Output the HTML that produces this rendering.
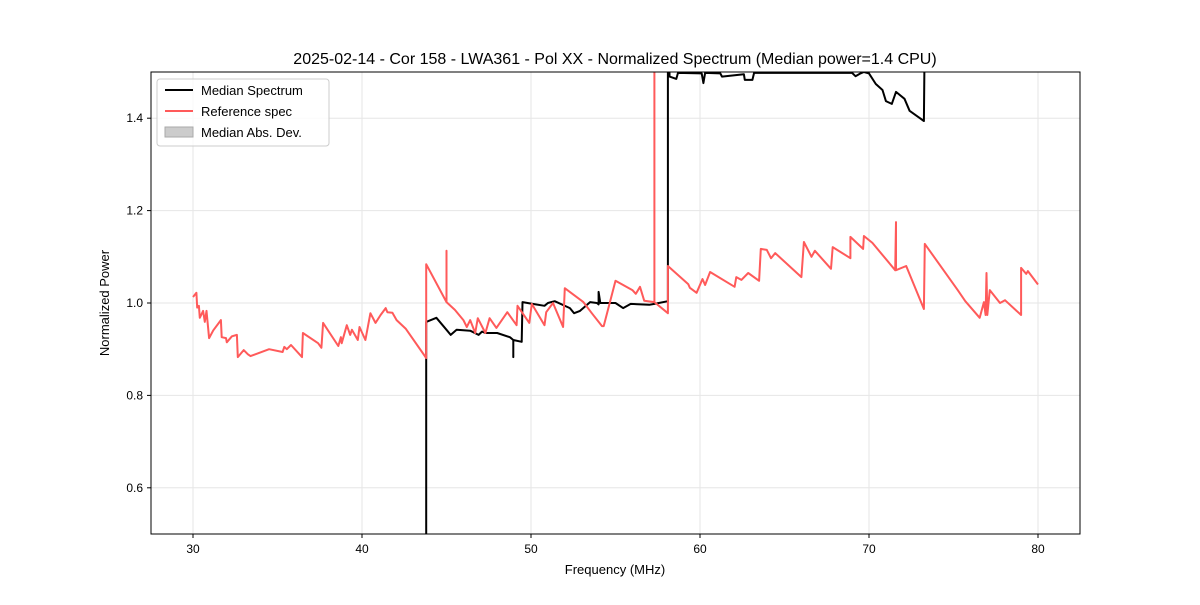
<!DOCTYPE html>
<html><head><meta charset="utf-8"><style>
body{margin:0;background:#fff}
svg text{font-family:"Liberation Sans","DejaVu Sans",sans-serif;fill:#000}
</style></head><body>
<svg id="chart" width="1200" height="600" xmlns="http://www.w3.org/2000/svg">
<defs><clipPath id="clip"><rect x="151" y="72" width="929" height="462"/></clipPath></defs>
<rect width="1200" height="600" fill="#fff"/>
<text x="615" y="64" text-anchor="middle" font-size="16">2025-02-14 - Cor 158 - LWA361 - Pol XX - Normalized Spectrum (Median power=1.4 CPU)</text>
<g id="grid"></g>
<g id="series" clip-path="url(#clip)"></g>
<rect x="151" y="72" width="929" height="462" fill="none" stroke="#000" stroke-width="1"/>
<g id="ticks"></g>
<text x="615" y="574" text-anchor="middle" font-size="13">Frequency (MHz)</text>
<text transform="translate(109,303) rotate(-90)" text-anchor="middle" font-size="13">Normalized Power</text>
<g>
<rect x="157" y="79" width="172" height="67" rx="3" fill="#fff" fill-opacity="0.8" stroke="#ccc"/>
<line x1="165" y1="90" x2="193" y2="90" stroke="#000" stroke-width="2"/>
<text x="201" y="95" font-size="13">Median Spectrum</text>
<line x1="165" y1="111" x2="193" y2="111" stroke="#ff5a5a" stroke-width="2"/>
<text x="201" y="116" font-size="13">Reference spec</text>
<rect x="165" y="127" width="28" height="10" fill="#cccccc" stroke="#aaa"/>
<text x="201" y="137" font-size="13">Median Abs. Dev.</text>
</g>
</svg>
<script>
const xTicks=[30,40,50,60,70,80];
const yTicks=[0.6,0.8,1.0,1.2,1.4];
const yTickLabels=["0.6","0.8","1.0","1.2","1.4"];
const refFreq=[30.0,30.2,30.25,30.35,30.4,30.6,30.7,30.8,30.95,31.2,31.65,31.7,31.95,32.0,32.3,32.6,32.65,33.0,33.25,33.4,34.5,35.3,35.4,35.55,35.8,36.45,36.5,37.4,37.6,37.7,38.6,38.75,38.8,39.1,39.3,39.4,39.75,39.85,40.2,40.5,40.8,41.1,41.4,41.5,41.8,42.05,42.6,43.8,43.8,45.0,45.0,45.0,45.5,46.0,46.2,46.4,46.7,46.85,47.3,47.55,47.95,48.6,49.15,49.2,49.9,50.05,50.8,50.9,51.3,51.9,52.0,53.1,53.6,54.2,54.3,55.0,56.0,56.2,56.45,56.7,57.3,57.3,57.3,58.1,58.1,59.3,59.4,59.8,60.15,60.3,60.6,62.05,62.15,62.45,62.85,63.5,63.6,63.95,64.2,64.45,66.0,66.15,66.6,66.8,67.75,67.85,68.9,68.9,69.65,69.7,70.2,71.55,71.6,71.6,72.2,73.25,73.3,75.25,75.7,76.55,76.8,76.9,76.95,77.0,77.15,77.75,78.05,79.0,79.0,79.3,79.4,80.0];
const refVal=[1.013,1.022,0.99,0.994,0.968,0.983,0.959,0.983,0.924,0.941,0.963,0.926,0.924,0.915,0.928,0.931,0.883,0.898,0.889,0.885,0.900,0.894,0.905,0.900,0.909,0.883,0.935,0.913,0.903,0.957,0.907,0.926,0.913,0.952,0.931,0.942,0.920,0.948,0.920,0.978,0.957,0.974,0.989,0.980,0.979,0.963,0.944,0.881,1.084,1.002,1.113,1.002,0.985,0.963,0.948,0.963,0.935,0.967,0.935,0.967,0.946,0.980,0.952,0.994,0.957,0.998,0.952,0.980,1.0,0.948,1.032,1.002,0.978,0.950,0.950,1.048,1.028,1.020,1.035,1.005,1.002,1.60,1.002,0.978,1.080,1.041,1.033,1.022,1.052,1.039,1.067,1.035,1.056,1.050,1.065,1.048,1.117,1.115,1.097,1.108,1.056,1.132,1.100,1.113,1.074,1.121,1.097,1.143,1.117,1.145,1.130,1.071,1.175,1.071,1.080,0.987,1.128,1.028,1.004,0.968,1.002,0.974,1.065,0.974,1.028,1.0,1.006,0.974,1.076,1.063,1.069,1.040];
const medFreq=[43.8,43.8,44.4,45.0,45.25,45.6,46.4,46.9,47.1,47.3,48.0,48.75,48.95,48.95,48.95,49.45,49.5,50.1,50.8,51.0,51.4,52.3,52.55,52.9,53.5,53.9,54.0,54.0,54.1,55.0,55.45,55.9,57.0,57.3,58.1,58.1,58.2,58.6,58.7,60.1,60.2,60.3,61.2,61.3,62.6,62.65,63.1,63.2,69.0,69.2,69.5,69.7,70.0,70.4,70.8,71.0,71.35,71.6,72.1,72.4,72.9,73.25,73.3,80.0];
const medVal=[0.40,0.959,0.968,0.942,0.931,0.942,0.940,0.931,0.938,0.935,0.935,0.926,0.920,0.883,0.920,0.916,1.002,0.998,0.994,1.0,1.004,0.989,0.978,0.983,1.002,1.0,0.997,1.024,1.0,1.0,0.989,0.998,0.996,0.998,1.004,1.60,1.49,1.485,1.498,1.497,1.476,1.498,1.497,1.49,1.495,1.483,1.483,1.498,1.498,1.491,1.497,1.5,1.497,1.474,1.461,1.437,1.431,1.457,1.442,1.416,1.403,1.394,1.60,1.60];
const X=f=>193+(f-30)*16.9;
const Y=v=>534-(v-0.5)*462;
const NS="http://www.w3.org/2000/svg";
const grid=document.getElementById('grid'),ticks=document.getElementById('ticks'),series=document.getElementById('series');
function mk(tag,attrs,parent){const e=document.createElementNS(NS,tag);for(const k in attrs)e.setAttribute(k,attrs[k]);parent.appendChild(e);return e;}
xTicks.forEach(t=>{
 const g=mk('line',{x1:X(t),x2:X(t),y1:72,y2:534,stroke:'#e6e6e6','stroke-width':1},grid);
 
 
 mk('line',{x1:X(t),x2:X(t),y1:534,y2:538,stroke:'#000'},ticks);
 const tx=mk('text',{x:X(t),y:553,'text-anchor':'middle','font-size':12},ticks);tx.textContent=t;
 
 
});
yTicks.forEach((t,i)=>{
 const g=mk('line',{x1:151,x2:1080,y1:Y(t),y2:Y(t),stroke:'#e6e6e6','stroke-width':1},grid);
 
 
 mk('line',{x1:147,x2:151,y1:Y(t),y2:Y(t),stroke:'#000'},ticks);
 const tx=mk('text',{x:143,y:Y(t)+4,'text-anchor':'end','font-size':12},ticks);tx.textContent=yTickLabels[i];
 
 
});
function line(fs,vs,color,name){
 const d=fs.map((f,i)=>(i?'L':'M')+X(f).toFixed(1)+','+Y(vs[i]).toFixed(1)).join('');
 const p=mk('path',{d:d,fill:'none',stroke:color,'stroke-width':2,'stroke-linejoin':'round'},series);
 
 
}
line(medFreq,medVal,'#000','median-spectrum-line');
line(refFreq,refVal,'#ff5a5a','reference-spec-line');
</script>
</body></html>
